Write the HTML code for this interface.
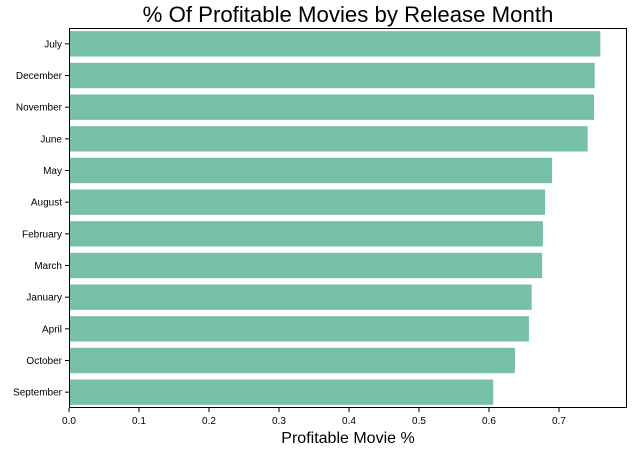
<!DOCTYPE html>
<html><head><meta charset="utf-8"><style>
body{margin:0;background:#fff;font-family:"Liberation Sans",sans-serif;}
</style></head><body>
<svg id="c" width="634" height="451" xmlns="http://www.w3.org/2000/svg">
<text x="348" y="22" text-anchor="middle" font-size="22.2" fill="#000">% Of Profitable Movies by Release Month</text>
<text x="348" y="443" text-anchor="middle" font-size="16" fill="#000">Profitable Movie %</text>
<g id="g"></g>
</svg>
<script>
const categories=["July","December","November","June","May","August","February","March","January","April","October","September"];
const values=[0.759,0.751,0.750,0.741,0.690,0.680,0.677,0.676,0.661,0.657,0.637,0.606];
const ticks=[0,0.1,0.2,0.3,0.4,0.5,0.6,0.7];
const tickLabels=["0.0","0.1","0.2","0.3","0.4","0.5","0.6","0.7"];
const L=69,R=627,T=28,B=408;
const x=v=>L+v*700;
const band=(B-T)/categories.length;
const y=i=>T+i*band;
const g=document.getElementById('g');
const NS="http://www.w3.org/2000/svg";
function mk(t,a){const e=document.createElementNS(NS,t);for(const k in a)e.setAttribute(k,a[k]);g.appendChild(e);return e;}
categories.forEach((c,i)=>{
 const r=mk('rect',{x:L,y:y(i)+band*0.1,width:x(values[i])-L,height:band*0.8,fill:'#75c0a6'});
 
 
 const tk=mk('line',{x1:L-4,x2:L,y1:y(i)+band/2,y2:y(i)+band/2,stroke:'#000','stroke-width':1});
 
 
 const t=mk('text',{x:L-7,y:y(i)+band/2+3.5,'text-anchor':'end','font-size':10,fill:'#000'});
 t.textContent=c;
 
 
});
ticks.forEach((v,i)=>{
 const tk=mk('line',{x1:x(v),x2:x(v),y1:B,y2:B+4,stroke:'#000','stroke-width':1});
 
 
 const t=mk('text',{x:x(v),y:B+16,'text-anchor':'middle','font-size':10,fill:'#000'});
 t.textContent=tickLabels[i];
 
 
});
const f=mk('rect',{x:L+0.5,y:T+0.5,width:R-L-1,height:B-T-1,fill:'none',stroke:'#000','stroke-width':1});


</script>
</body></html>
